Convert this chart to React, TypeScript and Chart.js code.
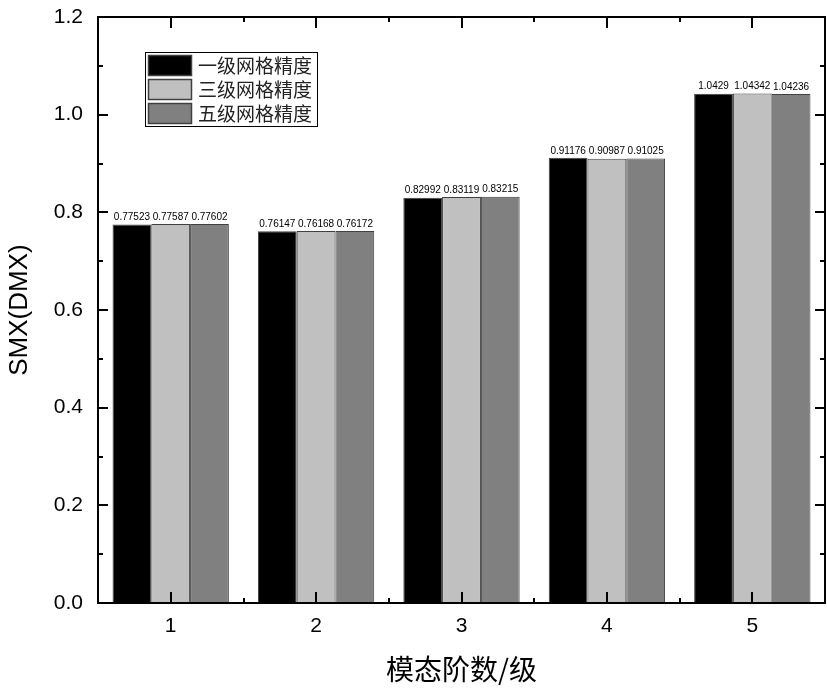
import { useEffect, useRef } from "react"
import { Chart, registerables } from "chart.js"

Chart.register(...registerables)

const categories = ["1", "2", "3", "4", "5"]
const seriesNames = ["一级网格精度", "三级网格精度", "五级网格精度"]
const level1 = [0.77523, 0.76147, 0.82992, 0.91176, 1.0429]
const level3 = [0.77587, 0.76168, 0.83119, 0.90987, 1.04342]
const level5 = [0.77602, 0.76172, 0.83215, 0.91025, 1.04236]
const yMin = 0
const yMax = 1.2
const yStep = 0.2

const fills = ["#000000", "#c0c0c0", "#808080"]

// frame + inward ticks like Origin
const framePlugin = {
  id: "frame",
  afterDraw(chart: any) {
    const { ctx, chartArea: a, scales } = chart
    const x = scales.x
    const y = scales.y
    ctx.save()
    ctx.strokeStyle = "#000"
    ctx.lineWidth = 2
    ctx.strokeRect(a.left, a.top, a.right - a.left, a.bottom - a.top)
    ctx.beginPath()
    for (let v = yMin; v <= yMax + 1e-9; v += yStep / 2) {
      const py = Math.round(y.getPixelForValue(v))
      const major = Math.round(v / yStep * 2) % 2 === 0
      const len = major ? 10 : 5
      ctx.moveTo(a.left, py)
      ctx.lineTo(a.left + len, py)
      ctx.moveTo(a.right, py)
      ctx.lineTo(a.right - len, py)
    }
    for (let i = 0; i < categories.length; i++) {
      const px = Math.round(x.getPixelForValue(i))
      ctx.moveTo(px, a.bottom)
      ctx.lineTo(px, a.bottom - 11)
      ctx.moveTo(px, a.top)
      ctx.lineTo(px, a.top + 11)
      if (i < categories.length - 1) {
        const mx = Math.round((px + x.getPixelForValue(i + 1)) / 2)
        ctx.moveTo(mx, a.bottom)
        ctx.lineTo(mx, a.bottom - 5)
        ctx.moveTo(mx, a.top)
        ctx.lineTo(mx, a.top + 5)
      }
    }
    ctx.stroke()
    ctx.restore()
  },
}

const valueLabels = {
  id: "valueLabels",
  afterDatasetsDraw(chart: any) {
    const { ctx } = chart
    ctx.save()
    ctx.font = "10px 'Liberation Sans', Arial, sans-serif"
    ctx.fillStyle = "#000"
    ctx.textAlign = "center"
    ctx.textBaseline = "bottom"
    chart.data.datasets.forEach((ds: any, di: number) => {
      const meta = chart.getDatasetMeta(di)
      meta.data.forEach((el: any, i: number) => {
        ctx.fillText(String(ds.data[i]), el.x, el.y - 2)
      })
    })
    ctx.restore()
  },
}

const boxLegend = {
  id: "boxLegend",
  afterDraw(chart: any) {
    const { ctx } = chart
    ctx.save()
    ctx.fillStyle = "#fff"
    ctx.fillRect(145, 52, 172, 74)
    ctx.strokeStyle = "#000"
    ctx.lineWidth = 1
    ctx.strokeRect(145.5, 52.5, 172, 74)
    ctx.font = "19px 'Noto Sans CJK SC', sans-serif"
    ctx.textBaseline = "middle"
    ctx.textAlign = "left"
    seriesNames.forEach((name, i) => {
      const top = 55 + i * 24
      ctx.fillStyle = fills[i]
      ctx.fillRect(148, top, 44, 21)
      ctx.strokeStyle = "#404040"
      ctx.lineWidth = 1.5
      ctx.strokeRect(148.5, top + 0.5, 43, 20)
      ctx.fillStyle = "#222"
      ctx.fillText(name, 198, top + 11)
    })
    ctx.restore()
  },
}

export default function App() {
  const canvasRef = useRef<HTMLCanvasElement | null>(null)

  useEffect(() => {
    document.body.style.margin = "0"
    if (!canvasRef.current) return
    const ctx = canvasRef.current.getContext("2d")
    if (!ctx) return

    const series = [level1, level3, level5]
    const chart = new Chart(ctx, {
      type: "bar",
      data: {
        labels: categories,
        datasets: series.map((d, i) => ({
          label: seriesNames[i],
          data: d,
          backgroundColor: fills[i],
          borderColor: "#404040",
          borderWidth: 1,
          categoryPercentage: 0.8,
          barPercentage: 1.0,
        })),
      },
      options: {
        responsive: false,
        animation: false,
        devicePixelRatio: 1,
        layout: { padding: { top: 17, right: 2, left: 0, bottom: 0 } },
        plugins: {
          legend: { display: false },
          tooltip: { enabled: false },
        },
        scales: {
          x: {
            type: "category",
            offset: true,
            grid: { display: false, drawTicks: false },
            border: { display: false },
            ticks: {
              color: "#000",
              padding: 11,
              font: { family: "'Liberation Sans', Arial, sans-serif", size: 21 },
            },
            title: {
              display: true,
              text: "模态阶数/级",
              color: "#000",
              font: { family: "'Noto Sans CJK SC', sans-serif", size: 28 },
              padding: { top: 0, bottom: 6 },
            },
            afterFit(scale: any) {
              scale.height = 89
              scale.paddingLeft = 0
              scale.paddingRight = 0
            },
          },
          y: {
            min: yMin,
            max: yMax,
            grid: { display: false, drawTicks: false },
            border: { display: false },
            ticks: {
              stepSize: yStep,
              color: "#000",
              padding: 15,
              font: { family: "'Liberation Sans', Arial, sans-serif", size: 21 },
              callback: (v: any) => Number(v).toFixed(1),
            },
            title: {
              display: true,
              text: "SMX(DMX)",
              color: "#000",
              font: { family: "'Liberation Sans', Arial, sans-serif", size: 26 },
              padding: { top: 4, bottom: 0 },
            },
            afterFit(scale: any) {
              scale.width = 98
              scale.paddingTop = 0
              scale.paddingBottom = 0
            },
          },
        },
      },
      plugins: [valueLabels, framePlugin, boxLegend],
    })

    return () => {
      chart.destroy()
    }
  }, [])

  return (
    <div style={{ width: 827, height: 692, background: "#fff" }}>
      <canvas ref={canvasRef} width={827} height={692}></canvas>
    </div>
  )
}
